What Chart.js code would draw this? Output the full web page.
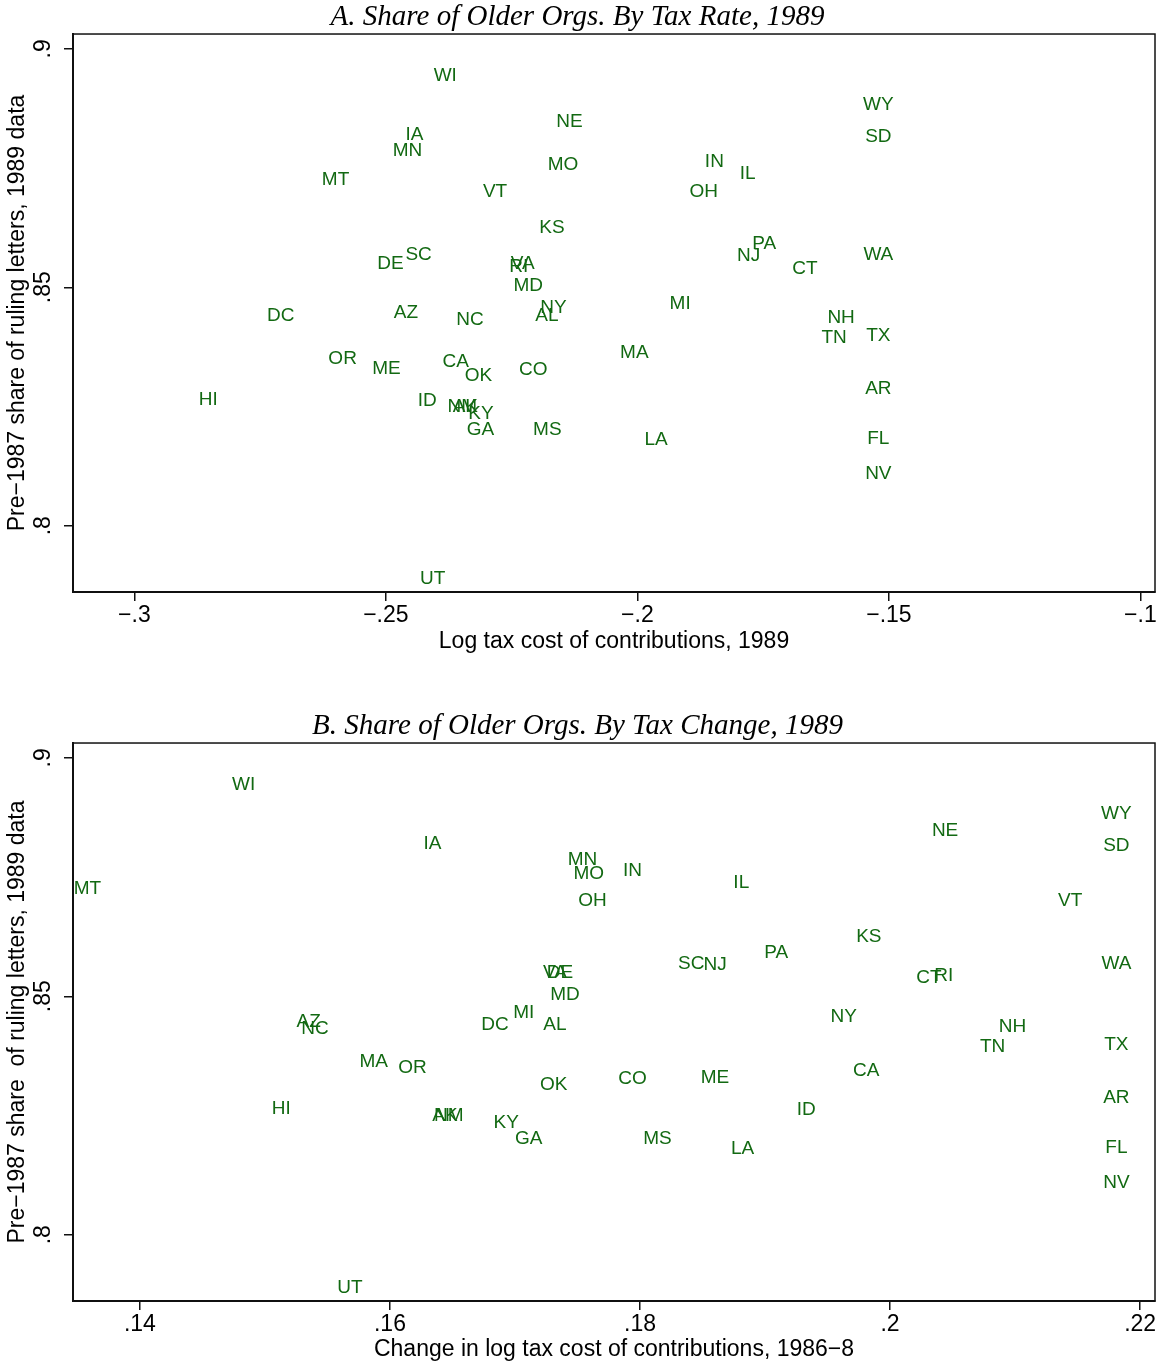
<!DOCTYPE html>
<html>
<head>
<meta charset="utf-8">
<title>Share of Older Orgs</title>
<script src="https://cdn.jsdelivr.net/npm/chart.js@4.4.1/dist/chart.umd.min.js"></script>
<style>
  body { margin: 0; background: #fff; }
  canvas { display: block; }
</style>
</head>
<body>
<canvas id="panelA" width="1162" height="683"></canvas>
<canvas id="panelB" width="1162" height="683"></canvas>
<script>
// state codes (same order in every array below)
const states = ["AK","AL","AR","AZ","CA","CO","CT","DC","DE","FL","GA","HI","IA","ID","IL","IN",
  "KS","KY","LA","MA","MD","ME","MI","MN","MO","MS","MT","NC","NE","NH","NJ","NM","NV","NY",
  "OH","OK","OR","PA","RI","SC","SD","TN","TX","UT","VA","VT","WA","WI","WY"];

// pre-1987 share of ruling letters, 1989 data
const share89 = [0.8253,0.8443,0.8291,0.8450,0.8347,0.8330,0.8543,0.8443,0.8553,0.8186,0.8204,0.8268,0.8823,0.8266,0.8742,0.8767,
  0.8628,0.8237,0.8184,0.8365,0.8506,0.8332,0.8468,0.8790,0.8760,0.8204,0.8729,0.8436,0.8850,0.8439,0.8570,0.8253,0.8112,0.8460,
  0.8703,0.8317,0.8353,0.8595,0.8547,0.8572,0.8818,0.8398,0.8401,0.7892,0.8553,0.8703,0.8572,0.8947,0.8886];

// log tax cost of contributions, 1989
const taxCost89 = [-0.2342,-0.2180,-0.1521,-0.2460,-0.2361,-0.2207,-0.1667,-0.2709,-0.2491,-0.1521,-0.2312,-0.2853,-0.2443,-0.2418,-0.1781,-0.1847,
  -0.2170,-0.2311,-0.1963,-0.2006,-0.2217,-0.2499,-0.1915,-0.2457,-0.2148,-0.2179,-0.2600,-0.2333,-0.2135,-0.1595,-0.1779,-0.2348,-0.1521,-0.2167,
  -0.1868,-0.2316,-0.2586,-0.1748,-0.2236,-0.2435,-0.1521,-0.1609,-0.1521,-0.2407,-0.2228,-0.2283,-0.1521,-0.2382,-0.1521];

// change in log tax cost of contributions, 1986-8
const taxChange = [0.1644,0.1732,0.2181,0.1535,0.1981,0.1794,0.2031,0.1684,0.1736,0.2181,0.1711,0.1513,0.1634,0.1933,0.1881,0.1794,
  0.1983,0.1693,0.1882,0.1587,0.1740,0.1860,0.1707,0.1754,0.1759,0.1814,0.1358,0.1540,0.2044,0.2098,0.1860,0.1647,0.2181,0.1963,
  0.1762,0.1731,0.1618,0.1909,0.2043,0.1841,0.2181,0.2082,0.2181,0.1568,0.1732,0.2144,0.2181,0.1483,0.2181];

// ticks
const yTicks = [0.8, 0.85, 0.9];
const yTickLabels = [".8", ".85", ".9"];
const xTicksA = [-0.3, -0.25, -0.2, -0.15, -0.1];
const xTickLabelsA = ["\u2212.3", "\u2212.25", "\u2212.2", "\u2212.15", "\u2212.1"];
const xTicksB = [0.14, 0.16, 0.18, 0.2, 0.22];
const xTickLabelsB = [".14", ".16", ".18", ".2", ".22"];

const green = "rgb(18,105,18)";
const sans = "'Liberation Sans', Arial, sans-serif";
const serif = "'Liberation Serif', 'Times New Roman', serif";
const labelSize = 19;

// draw state codes centred on each point
const stateLabels = {
  id: "stateLabels",
  afterDatasetsDraw(chart) {
    const ctx = chart.ctx;
    const meta = chart.getDatasetMeta(0);
    ctx.save();
    ctx.font = labelSize + "px " + sans;
    ctx.fillStyle = green;
    ctx.textAlign = "center";
    ctx.textBaseline = "alphabetic";
    const half = labelSize * 0.716 / 2; // half cap height
    meta.data.forEach((pt, i) => ctx.fillText(states[i], pt.x, pt.y + half));
    ctx.restore();
  }
};

// box round the plot region
const frame = {
  id: "frame",
  afterDraw(chart) {
    const a = chart.chartArea;
    const ctx = chart.ctx;
    ctx.save();
    ctx.strokeStyle = "#111";
    ctx.lineWidth = 1.5;
    ctx.strokeRect(a.left, a.top, a.right - a.left, a.bottom - a.top);
    ctx.restore();
  }
};

function makePanel(id, title, titlePad, xs, xTicks, xTickLabels, xMin, xMax, xTitle, xHeight, xTitlePad, yTitle) {
  return new Chart(document.getElementById(id), {
    type: "scatter",
    data: {
      datasets: [{
        data: xs.map((x, i) => ({ x: x, y: share89[i] })),
        pointRadius: 0,
        pointHoverRadius: 0
      }]
    },
    options: {
      responsive: false,
      animation: false,
      layout: { padding: { left: 0, right: 7, top: 0, bottom: 0 } },
      plugins: {
        legend: { display: false },
        tooltip: { enabled: false },
        title: {
          display: true,
          text: title,
          color: "#000",
          font: { family: serif, size: 29, style: "italic", weight: "normal", lineHeight: 1.08 },
          padding: titlePad
        }
      },
      scales: {
        x: {
          type: "linear",
          min: xMin,
          max: xMax,
          afterBuildTicks: (s) => { s.ticks = xTicks.map(v => ({ value: v })); },
          afterFit: (s) => { s.height = xHeight; },
          grid: { drawOnChartArea: false, drawTicks: true, tickLength: 9, color: "#111", lineWidth: 1.5 },
          border: { display: true, color: "#111", width: 2 },
          ticks: {
            color: "#000",
            font: { family: sans, size: 23 },
            padding: 1,
            maxRotation: 0,
            autoSkip: false,
            callback: (v, i) => xTickLabels[i]
          },
          title: {
            display: true,
            text: xTitle,
            color: "#000",
            font: { family: sans, size: 23, lineHeight: 1.2 },
            padding: { top: 0, bottom: xTitlePad }
          }
        },
        y: {
          type: "linear",
          min: 0.7861,
          max: 0.9031,
          afterBuildTicks: (s) => { s.ticks = yTicks.map(v => ({ value: v })); },
          afterFit: (s) => { s.width = 73; },
          grid: { drawOnChartArea: false, drawTicks: true, tickLength: 9, color: "#111", lineWidth: 1.5 },
          border: { display: true, color: "#111", width: 2 },
          ticks: {
            color: "#000",
            font: { family: sans, size: 23 },
            padding: 4,
            minRotation: 90,
            maxRotation: 90,
            crossAlign: "center",
            autoSkip: false,
            callback: (v, i) => yTickLabels[i]
          },
          title: {
            display: true,
            text: yTitle,
            color: "#000",
            font: { family: sans, size: 23, lineHeight: 1.2 },
            padding: { top: 4, bottom: 0 }
          }
        }
      }
    },
    plugins: [stateLabels, frame]
  });
}

makePanel("panelA", "A. Share of Older Orgs. By Tax Rate, 1989", { top: 2, bottom: 0.7 },
  taxCost89, xTicksA, xTickLabelsA, -0.3122, -0.0971,
  "Log tax cost of contributions, 1989", 91, 28,
  "Pre\u22121987 share of ruling letters, 1989 data");

makePanel("panelB", "B. Share of Older Orgs. By Tax Change, 1989", { top: 27.3, bottom: 1.4 },
  taxChange, xTicksB, xTickLabelsB, 0.13465, 0.22119,
  "Change in log tax cost of contributions, 1986\u22128", 65, 3,
  "Pre\u22121987 share  of ruling letters, 1989 data");
</script>
</body>
</html>
